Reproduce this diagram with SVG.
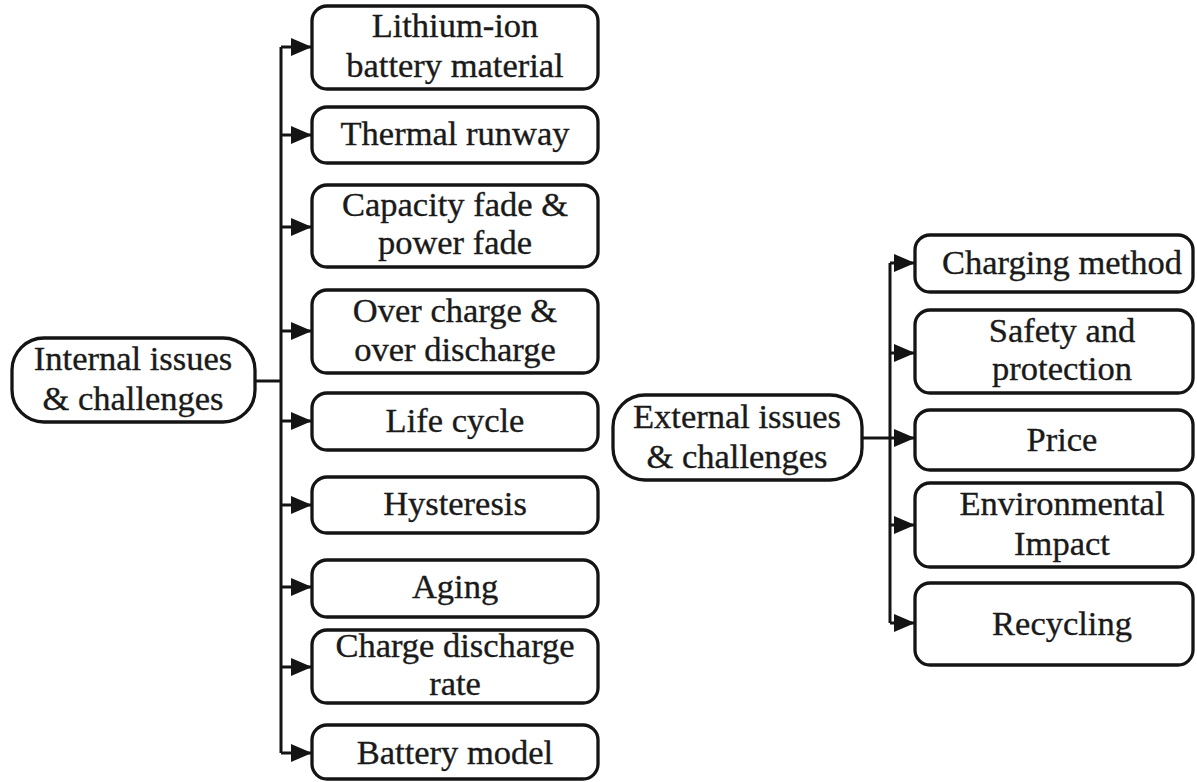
<svg xmlns="http://www.w3.org/2000/svg" width="1197" height="782" viewBox="0 0 1197 782">
<defs>
<style>
.box{fill:#fff;stroke:#141414;stroke-width:3.3}
.t{font-family:"Liberation Serif","Times New Roman",serif;font-size:34.5px;fill:#1a1a1a;stroke:#1a1a1a;stroke-width:0.35;text-anchor:middle}
.ln{fill:none;stroke:#141414;stroke-width:3}
</style>
<marker id="ah" markerUnits="userSpaceOnUse" markerWidth="22" markerHeight="20" refX="21" refY="10" orient="auto">
<path d="M0,1 L21,10 L0,19 z" fill="#141414"/>
</marker>
</defs>
<rect width="1197" height="782" fill="#fff"/>
<g id="connectors">
<path class="ln" d="M255,381 H281"/>
<path class="ln" d="M281,47 V753"/>
<path class="ln" d="M281,47 H312" marker-end="url(#ah)"/>
<path class="ln" d="M281,135 H312" marker-end="url(#ah)"/>
<path class="ln" d="M281,227 H312" marker-end="url(#ah)"/>
<path class="ln" d="M281,331 H312" marker-end="url(#ah)"/>
<path class="ln" d="M281,421 H312" marker-end="url(#ah)"/>
<path class="ln" d="M281,505 H312" marker-end="url(#ah)"/>
<path class="ln" d="M281,587 H312" marker-end="url(#ah)"/>
<path class="ln" d="M281,667 H312" marker-end="url(#ah)"/>
<path class="ln" d="M281,753 H312" marker-end="url(#ah)"/>
<path class="ln" d="M862,438 H890"/>
<path class="ln" d="M890,263 V623"/>
<path class="ln" d="M890,263 H915" marker-end="url(#ah)"/>
<path class="ln" d="M890,353 H915" marker-end="url(#ah)"/>
<path class="ln" d="M890,438 H915" marker-end="url(#ah)"/>
<path class="ln" d="M890,525 H915" marker-end="url(#ah)"/>
<path class="ln" d="M890,623 H915" marker-end="url(#ah)"/>
</g>
<g id="internal">
<rect class="box" x="12" y="338" width="243" height="84" rx="32"/>
<text class="t" x="133" y="370">Internal issues</text>
<text class="t" x="133" y="410">&amp; challenges</text>
</g>
<g id="n-lithium">
<rect class="box" x="312" y="6" width="286" height="83" rx="15"/>
<text class="t" x="455" y="37">Lithium-ion</text>
<text class="t" x="455" y="77">battery material</text>
</g>
<g id="n-thermal">
<rect class="box" x="312" y="107" width="286" height="56" rx="15"/>
<text class="t" x="455" y="145">Thermal runway</text>
</g>
<g id="n-capacity">
<rect class="box" x="312" y="185" width="286" height="82" rx="15"/>
<text class="t" x="455" y="216">Capacity fade &amp;</text>
<text class="t" x="455" y="254">power fade</text>
</g>
<g id="n-overcharge">
<rect class="box" x="312" y="290" width="286" height="83" rx="15"/>
<text class="t" x="455" y="322">Over charge &amp;</text>
<text class="t" x="455" y="361">over discharge</text>
</g>
<g id="n-life">
<rect class="box" x="312" y="393" width="286" height="57" rx="15"/>
<text class="t" x="455" y="432">Life cycle</text>
</g>
<g id="n-hysteresis">
<rect class="box" x="312" y="477" width="286" height="56" rx="15"/>
<text class="t" x="455" y="515">Hysteresis</text>
</g>
<g id="n-aging">
<rect class="box" x="312" y="560" width="286" height="57" rx="15"/>
<text class="t" x="455" y="598">Aging</text>
</g>
<g id="n-rate">
<rect class="box" x="312" y="630" width="286" height="73" rx="15"/>
<text class="t" x="455" y="657">Charge discharge</text>
<text class="t" x="455" y="695">rate</text>
</g>
<g id="n-model">
<rect class="box" x="312" y="725" width="286" height="54" rx="15"/>
<text class="t" x="455" y="764">Battery model</text>
</g>
<g id="external">
<rect class="box" x="613" y="395" width="249" height="85" rx="32"/>
<text class="t" x="737" y="428">External issues</text>
<text class="t" x="737" y="468">&amp; challenges</text>
</g>
<g id="n-charging">
<rect class="box" x="915" y="235" width="278" height="57" rx="15"/>
<text class="t" x="1062" y="274">Charging method</text>
</g>
<g id="n-safety">
<rect class="box" x="915" y="310" width="278" height="83" rx="15"/>
<text class="t" x="1062" y="342">Safety and</text>
<text class="t" x="1062" y="380">protection</text>
</g>
<g id="n-price">
<rect class="box" x="915" y="410" width="278" height="60" rx="15"/>
<text class="t" x="1062" y="451">Price</text>
</g>
<g id="n-environmental">
<rect class="box" x="915" y="483" width="278" height="84" rx="15"/>
<text class="t" x="1062" y="515">Environmental</text>
<text class="t" x="1062" y="555">Impact</text>
</g>
<g id="n-recycling">
<rect class="box" x="915" y="583" width="278" height="82" rx="15"/>
<text class="t" x="1062" y="635">Recycling</text>
</g>
</svg>
